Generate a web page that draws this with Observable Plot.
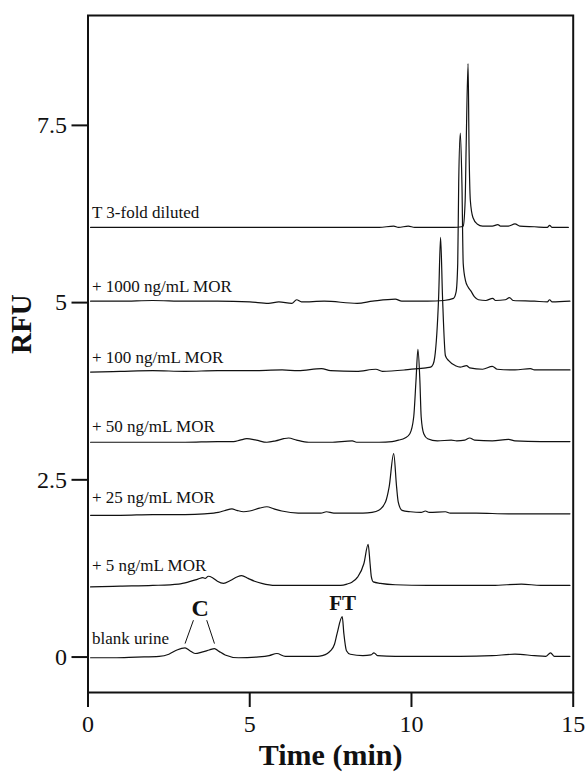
<!DOCTYPE html>
<html><head><meta charset="utf-8">
<script src="https://cdn.jsdelivr.net/npm/d3@7"></script>
<script src="https://cdn.jsdelivr.net/npm/@observablehq/plot@0.6"></script>
<style>body{margin:0;background:#fff}</style>
</head><body><div id="chart"></div>
<script>
// Electropherogram traces: [time (min), RFU]
const traceNames = ["blank urine", "+ 5 ng/mL MOR", "+ 25 ng/mL MOR", "+ 50 ng/mL MOR", "+ 100 ng/mL MOR", "+ 1000 ng/mL MOR", "T 3-fold diluted"];
const labelY = [0.18, 1.22, 2.18, 3.18, 4.15, 5.15, 6.19];

const blankUrine = [[0.08,-0.01],[0.8,-0.01],[1.5,0.0],[2.2,0.01],[2.5,0.04],[2.75,0.1],[3.0,0.13],[3.15,0.09],[3.31,0.05],[3.52,0.07],[3.75,0.1],[3.91,0.12],[4.05,0.08],[4.24,0.03],[4.65,-0.01],[5.2,0.0],[5.6,0.02],[5.84,0.05],[6.1,0.01],[6.7,0.01],[7.1,0.01],[7.24,0.02],[7.4,0.05],[7.5,0.09],[7.62,0.18],[7.7,0.33],[7.86,0.57],[7.91,0.33],[7.99,0.09],[8.11,0.04],[8.5,0.02],[8.75,0.03],[8.84,0.06],[8.95,0.02],[9.5,0.01],[10.5,0.01],[11.5,0.01],[12.5,0.02],[13.2,0.04],[13.8,0.02],[14.15,0.01],[14.3,0.06],[14.42,0.01],[14.9,0.01]];
const mor5 = [[0.08,0.99],[1.0,1.0],[2.0,1.01],[2.8,1.03],[3.11,1.06],[3.4,1.1],[3.55,1.12],[3.62,1.11],[3.72,1.14],[3.85,1.12],[4.0,1.07],[4.19,1.04],[4.4,1.08],[4.6,1.13],[4.75,1.15],[4.95,1.11],[5.15,1.07],[5.37,1.04],[5.79,1.01],[6.5,1.01],[7.2,1.01],[7.81,1.01],[8.01,1.03],[8.17,1.06],[8.34,1.13],[8.53,1.32],[8.66,1.59],[8.72,1.32],[8.76,1.13],[8.82,1.06],[9.04,1.04],[9.5,1.02],[10.5,1.01],[11.5,1.01],[12.5,1.01],[13.4,1.03],[14.0,1.01],[14.9,1.01]];
const mor25 = [[0.08,2.0],[1.0,2.0],[2.0,2.01],[3.0,2.01],[3.6,2.02],[4.03,2.04],[4.25,2.07],[4.45,2.09],[4.6,2.07],[4.81,2.05],[5.0,2.06],[5.3,2.1],[5.53,2.12],[5.75,2.09],[5.99,2.06],[6.5,2.03],[7.2,2.03],[7.37,2.05],[7.6,2.03],[8.0,2.03],[8.5,2.03],[8.78,2.04],[8.99,2.07],[9.2,2.19],[9.31,2.4],[9.45,2.87],[9.54,2.4],[9.59,2.19],[9.71,2.07],[9.97,2.05],[10.3,2.04],[10.43,2.06],[10.55,2.04],[11.05,2.05],[11.2,2.03],[12.0,2.03],[13.0,2.02],[14.0,2.02],[14.9,2.02]];
const mor50 = [[0.08,3.03],[1.0,3.03],[2.0,3.03],[3.0,3.03],[4.0,3.04],[4.5,3.04],[4.7,3.06],[4.91,3.08],[5.2,3.06],[5.53,3.03],[5.8,3.05],[6.05,3.08],[6.2,3.09],[6.45,3.06],[6.82,3.03],[7.5,3.03],[8.17,3.05],[8.3,3.03],[9.0,3.03],[9.4,3.04],[9.6,3.06],[9.8,3.09],[9.95,3.15],[10.07,3.39],[10.14,3.9],[10.2,4.34],[10.26,3.9],[10.3,3.39],[10.38,3.15],[10.5,3.08],[10.8,3.05],[11.23,3.06],[11.4,3.05],[11.65,3.06],[11.8,3.09],[11.95,3.06],[12.5,3.05],[13.0,3.07],[13.2,3.05],[14.0,3.04],[14.9,3.04]];
const mor100 = [[0.08,4.02],[1.0,4.03],[2.0,4.04],[3.0,4.03],[4.0,4.04],[5.0,4.04],[6.0,4.05],[6.5,4.04],[7.22,4.07],[7.5,4.04],[8.3,4.03],[8.9,4.06],[9.1,4.03],[9.8,4.05],[10.2,4.07],[10.45,4.08],[10.59,4.09],[10.67,4.13],[10.72,4.23],[10.84,5.08],[10.9,5.92],[10.96,5.08],[11.05,4.25],[11.15,4.18],[11.36,4.11],[11.51,4.09],[11.6,4.1],[11.7,4.11],[11.8,4.08],[12.2,4.06],[12.5,4.1],[12.65,4.06],[13.2,4.05],[13.68,4.07],[13.8,4.05],[14.9,4.05]];
const mor1000 = [[0.08,5.02],[1.0,5.02],[2.0,5.03],[3.0,5.02],[4.0,5.02],[5.0,5.01],[5.58,4.99],[5.9,5.01],[6.3,4.99],[6.45,5.04],[6.6,5.01],[7.3,5.02],[8.32,4.99],[8.8,5.02],[9.5,5.05],[9.7,5.02],[10.5,5.02],[11.0,5.03],[11.3,5.06],[11.38,5.15],[11.43,5.55],[11.46,6.68],[11.51,7.39],[11.56,6.68],[11.6,5.55],[11.67,5.31],[11.75,5.22],[11.83,5.17],[11.95,5.08],[12.07,5.04],[12.3,5.03],[12.51,5.06],[12.6,5.03],[12.9,5.04],[13.03,5.07],[13.15,5.03],[13.8,5.02],[14.2,5.01],[14.27,5.04],[14.35,5.01],[14.9,5.02]];
const tDiluted = [[0.08,6.06],[1.0,6.06],[2.0,6.06],[3.0,6.06],[4.0,6.06],[5.0,6.06],[6.0,6.06],[7.0,6.06],[8.0,6.06],[9.0,6.06],[9.45,6.08],[9.6,6.06],[9.9,6.08],[10.1,6.06],[10.8,6.06],[11.3,6.06],[11.55,6.07],[11.6,6.08],[11.66,6.44],[11.69,7.18],[11.75,8.37],[11.78,7.18],[11.82,6.44],[11.9,6.2],[12.03,6.11],[12.2,6.08],[12.5,6.08],[12.67,6.1],[12.75,6.08],[13.0,6.08],[13.2,6.11],[13.35,6.08],[13.8,6.07],[14.2,6.06],[14.27,6.09],[14.35,6.06],[14.85,6.06]];

const xTicks = [0, 5, 10, 15];
const yTicks = [0, 2.5, 5, 7.5];

// Peak annotations
const annotText = ["C", "FT"];
const annotT = [3.47, 7.87];
const annotY = [0.69, 0.76];
const annotSize = [24, 21];
const leaderFromT = [3.26, 3.67];
const leaderFromY = [0.52, 0.52];
const leaderToT = [3.0, 3.91];
const leaderToY = [0.19, 0.19];

const traces = [blankUrine, mor5, mor25, mor50, mor100, mor1000, tDiluted];
const rows = traces.flatMap((pts, i) => pts.map(([t, v]) => ({trace: traceNames[i], t, v})));
const labels = traceNames.map((name, i) => ({name, y: labelY[i]}));
const annots = annotText.map((s, i) => ({s, t: annotT[i], y: annotY[i], size: annotSize[i]}));
const leaders = leaderFromT.map((t, i) => ({x1: t, y1: leaderFromY[i], x2: leaderToT[i], y2: leaderToY[i]}));

const serif = "'Liberation Serif', 'Times New Roman', serif";
const chart = Plot.plot({
  width: 585, height: 772,
  marginLeft: 87.5, marginRight: 12.3, marginTop: 15, marginBottom: 80,
  style: {fontFamily: serif, background: "#fff", color: "#111"},
  x: {domain: [0, 15]},
  y: {domain: [-0.5, 9.05]},
  marks: [
    Plot.line(rows, {x: "t", y: "v", z: "trace", curve: "monotone-x", stroke: "#111", strokeWidth: 1.2}),
    Plot.frame({strokeWidth: 2, stroke: "#111"}),
    Plot.axisX({ticks: xTicks, tickSize: 15, tickPadding: 7, fontSize: 24, strokeWidth: 2, label: null, tickFormat: d => String(d)}),
    Plot.axisY({ticks: yTicks, tickSize: 16, tickPadding: 5, fontSize: 24, strokeWidth: 2, label: null, tickFormat: d => String(d)}),
    Plot.text(labels, {frameAnchor: "left", dx: 4, y: "y", text: "name", textAnchor: "start", lineAnchor: "bottom", fontSize: 17, fill: "#111"}),
    Plot.link(leaders, {x1: "x1", y1: "y1", x2: "x2", y2: "y2", stroke: "#111", strokeWidth: 1}),
    Plot.text(annots, {x: "t", y: "y", text: "s", fontSize: d => d.size, fontWeight: "bold", lineAnchor: "middle", fill: "#111"}),
    Plot.text(["Time (min)"], {frameAnchor: "bottom", dy: 63, fontSize: 30, fontWeight: "bold", lineAnchor: "middle", fill: "#111"}),
    Plot.text(["RFU"], {frameAnchor: "left", dx: -66, rotate: -90, fontSize: 29, fontWeight: "bold", lineAnchor: "middle", fill: "#111"})
  ]
});
document.getElementById("chart").appendChild(chart);
</script>
</body></html>
